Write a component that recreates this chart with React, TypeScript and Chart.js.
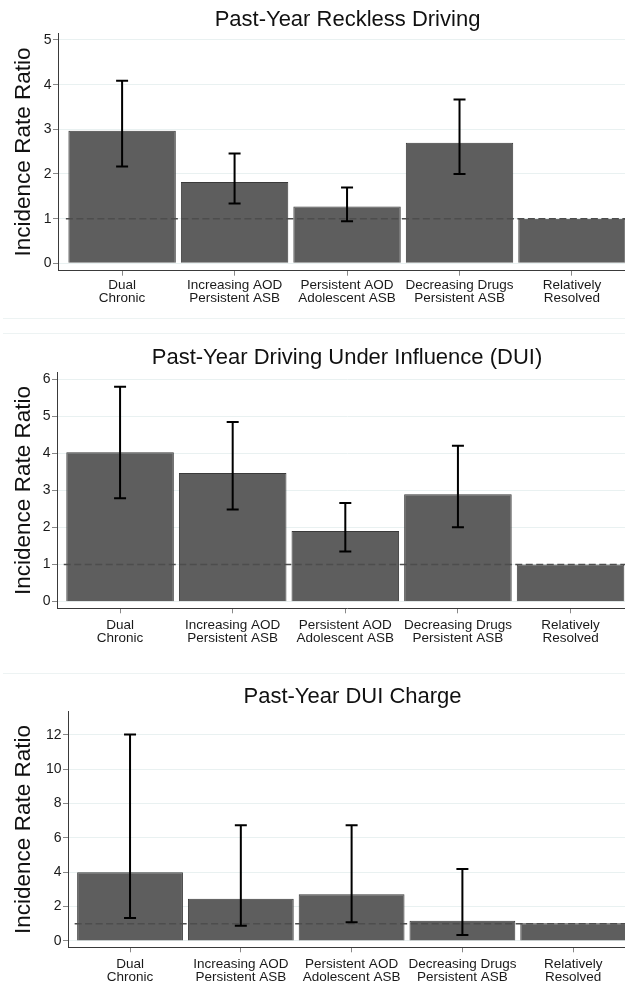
import React, { useEffect, useRef } from "react";
import { Chart, registerables } from "chart.js";

Chart.register(...registerables);

// ---------- data ----------
const categories: string[][] = [
  ["Dual", "Chronic"],
  ["Increasing AOD", "Persistent ASB"],
  ["Persistent AOD", "Adolescent ASB"],
  ["Decreasing Drugs", "Persistent ASB"],
  ["Relatively", "Resolved"],
];

const yAxisTitle = "Incidence Rate Ratio";
const referenceValue = 1;

const recklessTitle = "Past-Year Reckless Driving";
const recklessIRR = [2.97, 1.82, 1.27, 2.7, 1.0];
const recklessLower = [2.17, 1.34, 0.94, 2.0, null];
const recklessUpper = [4.09, 2.46, 1.7, 3.67, null];
const recklessTicks = [0, 1, 2, 3, 4, 5];

const duiTitle = "Past-Year Driving Under Influence (DUI)";
const duiIRR = [4.03, 3.47, 1.91, 2.9, 1.0];
const duiLower = [2.79, 2.49, 1.35, 2.01, null];
const duiUpper = [5.8, 4.85, 2.66, 4.21, null];
const duiTicks = [0, 1, 2, 3, 4, 5, 6];

const chargeTitle = "Past-Year DUI Charge";
const chargeIRR = [4.0, 2.45, 2.72, 1.18, 1.03];
const chargeLower = [1.34, 0.89, 1.09, 0.35, null];
const chargeUpper = [12.02, 6.74, 6.74, 4.19, null];
const chargeTicks = [0, 2, 4, 6, 8, 10, 12];

// ---------- layout (positions / styles only) ----------
const FONT = '"Liberation Sans", Arial, Helvetica, sans-serif';
const CANVAS_W = 637;

type Layout = {
  top: number;
  height: number;
  axisX: number;
  titleCenter: number;
  chartTop: number;
  chartBottom: number;
  yMin: number;
  yMax: number;
  xMin: number;
  xMax: number;
  labelPad: number;
};

const layout1: Layout = {
  top: 0, height: 316, axisX: 58, titleCenter: 20, chartTop: 33.3, chartBottom: 270.7,
  yMin: -0.165, yMax: 5.15, xMin: -0.57, xMax: 4.578, labelPad: 3.4,
};
const layout2: Layout = {
  top: 335, height: 336, axisX: 57, titleCenter: 23.3, chartTop: 37.7, chartBottom: 273.3,
  yMin: -0.18, yMax: 6.18, xMin: -0.56, xMax: 4.59, labelPad: 5.3,
};
const layout3: Layout = {
  top: 675, height: 312, axisX: 68, titleCenter: 21.7, chartTop: 36.7, chartBottom: 272.3,
  yMin: -0.37, yMax: 13.35, xMin: -0.56, xMax: 4.576, labelPad: 5.3,
};

type PanelProps = {
  cfg: Layout;
  title: string;
  values: number[];
  lower: (number | null)[];
  upper: (number | null)[];
  yTicks: number[];
};

function Panel({ cfg, title, values, lower, upper, yTicks }: PanelProps) {
  const ref = useRef<HTMLCanvasElement>(null);

  useEffect(() => {
    const canvas = ref.current;
    if (!canvas) return;

    const errorBars = {
      id: "errorBars",
      afterDatasetsDraw(chart: any) {
        const { ctx, scales } = chart;
        const x = scales.x;
        const y = scales.y;
        ctx.save();
        ctx.strokeStyle = "#000";
        ctx.lineWidth = 2;
        values.forEach((_, i) => {
          const lo = lower[i];
          const hi = upper[i];
          if (lo == null || hi == null) return;
          const px = x.getPixelForValue(i);
          const y1 = y.getPixelForValue(lo);
          const y2 = y.getPixelForValue(hi);
          ctx.beginPath();
          ctx.moveTo(px, y1);
          ctx.lineTo(px, y2);
          ctx.moveTo(px - 6, y1);
          ctx.lineTo(px + 6, y1);
          ctx.moveTo(px - 6, y2);
          ctx.lineTo(px + 6, y2);
          ctx.stroke();
        });
        ctx.restore();
      },
    };

    const titleLine = 22 * 1.2;
    const titleTop = cfg.titleCenter - titleLine / 2;
    const titleBottom = Math.max(0, cfg.chartTop - titleTop - titleLine);

    const chart = new Chart(canvas, {
      type: "bar",
      data: {
        datasets: [
          {
            type: "bar",
            data: values.map((v, i) => ({ x: i, y: v })),
            backgroundColor: "#5e5e5e",
            borderColor: "#3a3a3a",
            borderWidth: 1,
            barPercentage: 0.955,
            categoryPercentage: 1,
            order: 2,
          } as any,
          {
            type: "line",
            data: [
              { x: -0.5, y: referenceValue },
              { x: categories.length - 0.5, y: referenceValue },
            ],
            borderColor: "#4d4d4d",
            borderWidth: 1.5,
            borderDash: [7, 3.5],
            pointRadius: 0,
            fill: false,
            order: 1,
          } as any,
        ],
      },
      options: {
        animation: false,
        responsive: false,
        maintainAspectRatio: false,
        events: [],
        layout: { padding: 0 },
        plugins: {
          legend: { display: false },
          tooltip: { enabled: false },
          title: {
            display: true,
            text: title,
            fullSize: false,
            color: "#111",
            font: { family: FONT, size: 22, weight: "normal", lineHeight: 1.2 },
            padding: { top: titleTop, bottom: titleBottom },
          },
        },
        scales: {
          x: {
            type: "linear",
            min: cfg.xMin,
            max: cfg.xMax,
            offset: false,
            grid: {
              display: true,
              offset: false,
              drawOnChartArea: false,
              drawTicks: true,
              tickLength: 5,
              tickColor: "#888",
              tickWidth: 1,
            },
            border: { display: true, color: "#3a3a3a", width: 1 },
            ticks: {
              autoSkip: false,
              maxRotation: 0,
              minRotation: 0,
              includeBounds: false,
              padding: cfg.labelPad,
              color: "#1a1a1a",
              font: { family: FONT, size: 13.5, lineHeight: 0.95 },
              callback: (v: any) => categories[Math.round(Number(v))] ?? "",
            },
            afterBuildTicks: (s: any) => {
              s.ticks = categories.map((_, i) => ({ value: i }));
            },
            afterFit: (s: any) => {
              s.height = cfg.height - cfg.chartBottom;
            },
          } as any,
          y: {
            type: "linear",
            min: cfg.yMin,
            max: cfg.yMax,
            grid: {
              color: "#e9f1f1",
              lineWidth: 1,
              drawTicks: true,
              tickLength: 5,
              tickColor: "#888",
              tickWidth: 1,
            },
            border: { display: true, color: "#3a3a3a", width: 1 },
            ticks: {
              includeBounds: false,
              padding: 1.5,
              color: "#1a1a1a",
              font: { family: FONT, size: 14 },
            },
            afterBuildTicks: (s: any) => {
              s.ticks = yTicks.map((v) => ({ value: v }));
            },
            afterFit: (s: any) => {
              s.width = cfg.axisX;
            },
            title: {
              display: true,
              text: yAxisTitle,
              color: "#111",
              font: { family: FONT, size: 22.5, lineHeight: 1.2 },
              padding: { top: 10.5, bottom: 0 },
            },
          } as any,
        },
      },
      plugins: [errorBars],
    });

    return () => chart.destroy();
  }, [cfg, title, values, lower, upper, yTicks]);

  return (
    <canvas
      ref={ref}
      width={CANVAS_W}
      height={cfg.height}
      style={{
        position: "absolute",
        left: 0,
        top: cfg.top,
        width: CANVAS_W,
        height: cfg.height,
        display: "block",
      }}
    />
  );
}

const separatorTops = [318, 333, 673];

export default function App() {
  return (
    <div
      style={{
        position: "absolute",
        left: 0,
        top: 0,
        width: 625,
        height: 987,
        overflow: "hidden",
        background: "#fff",
      }}
    >
      {separatorTops.map((t) => (
        <div
          key={t}
          style={{
            position: "absolute",
            left: 3,
            top: t,
            width: 622,
            height: 1,
            background: "#edf3f3",
          }}
        />
      ))}
      <Panel
        cfg={layout1}
        title={recklessTitle}
        values={recklessIRR}
        lower={recklessLower}
        upper={recklessUpper}
        yTicks={recklessTicks}
      />
      <Panel
        cfg={layout2}
        title={duiTitle}
        values={duiIRR}
        lower={duiLower}
        upper={duiUpper}
        yTicks={duiTicks}
      />
      <Panel
        cfg={layout3}
        title={chargeTitle}
        values={chargeIRR}
        lower={chargeLower}
        upper={chargeUpper}
        yTicks={chargeTicks}
      />
    </div>
  );
}
